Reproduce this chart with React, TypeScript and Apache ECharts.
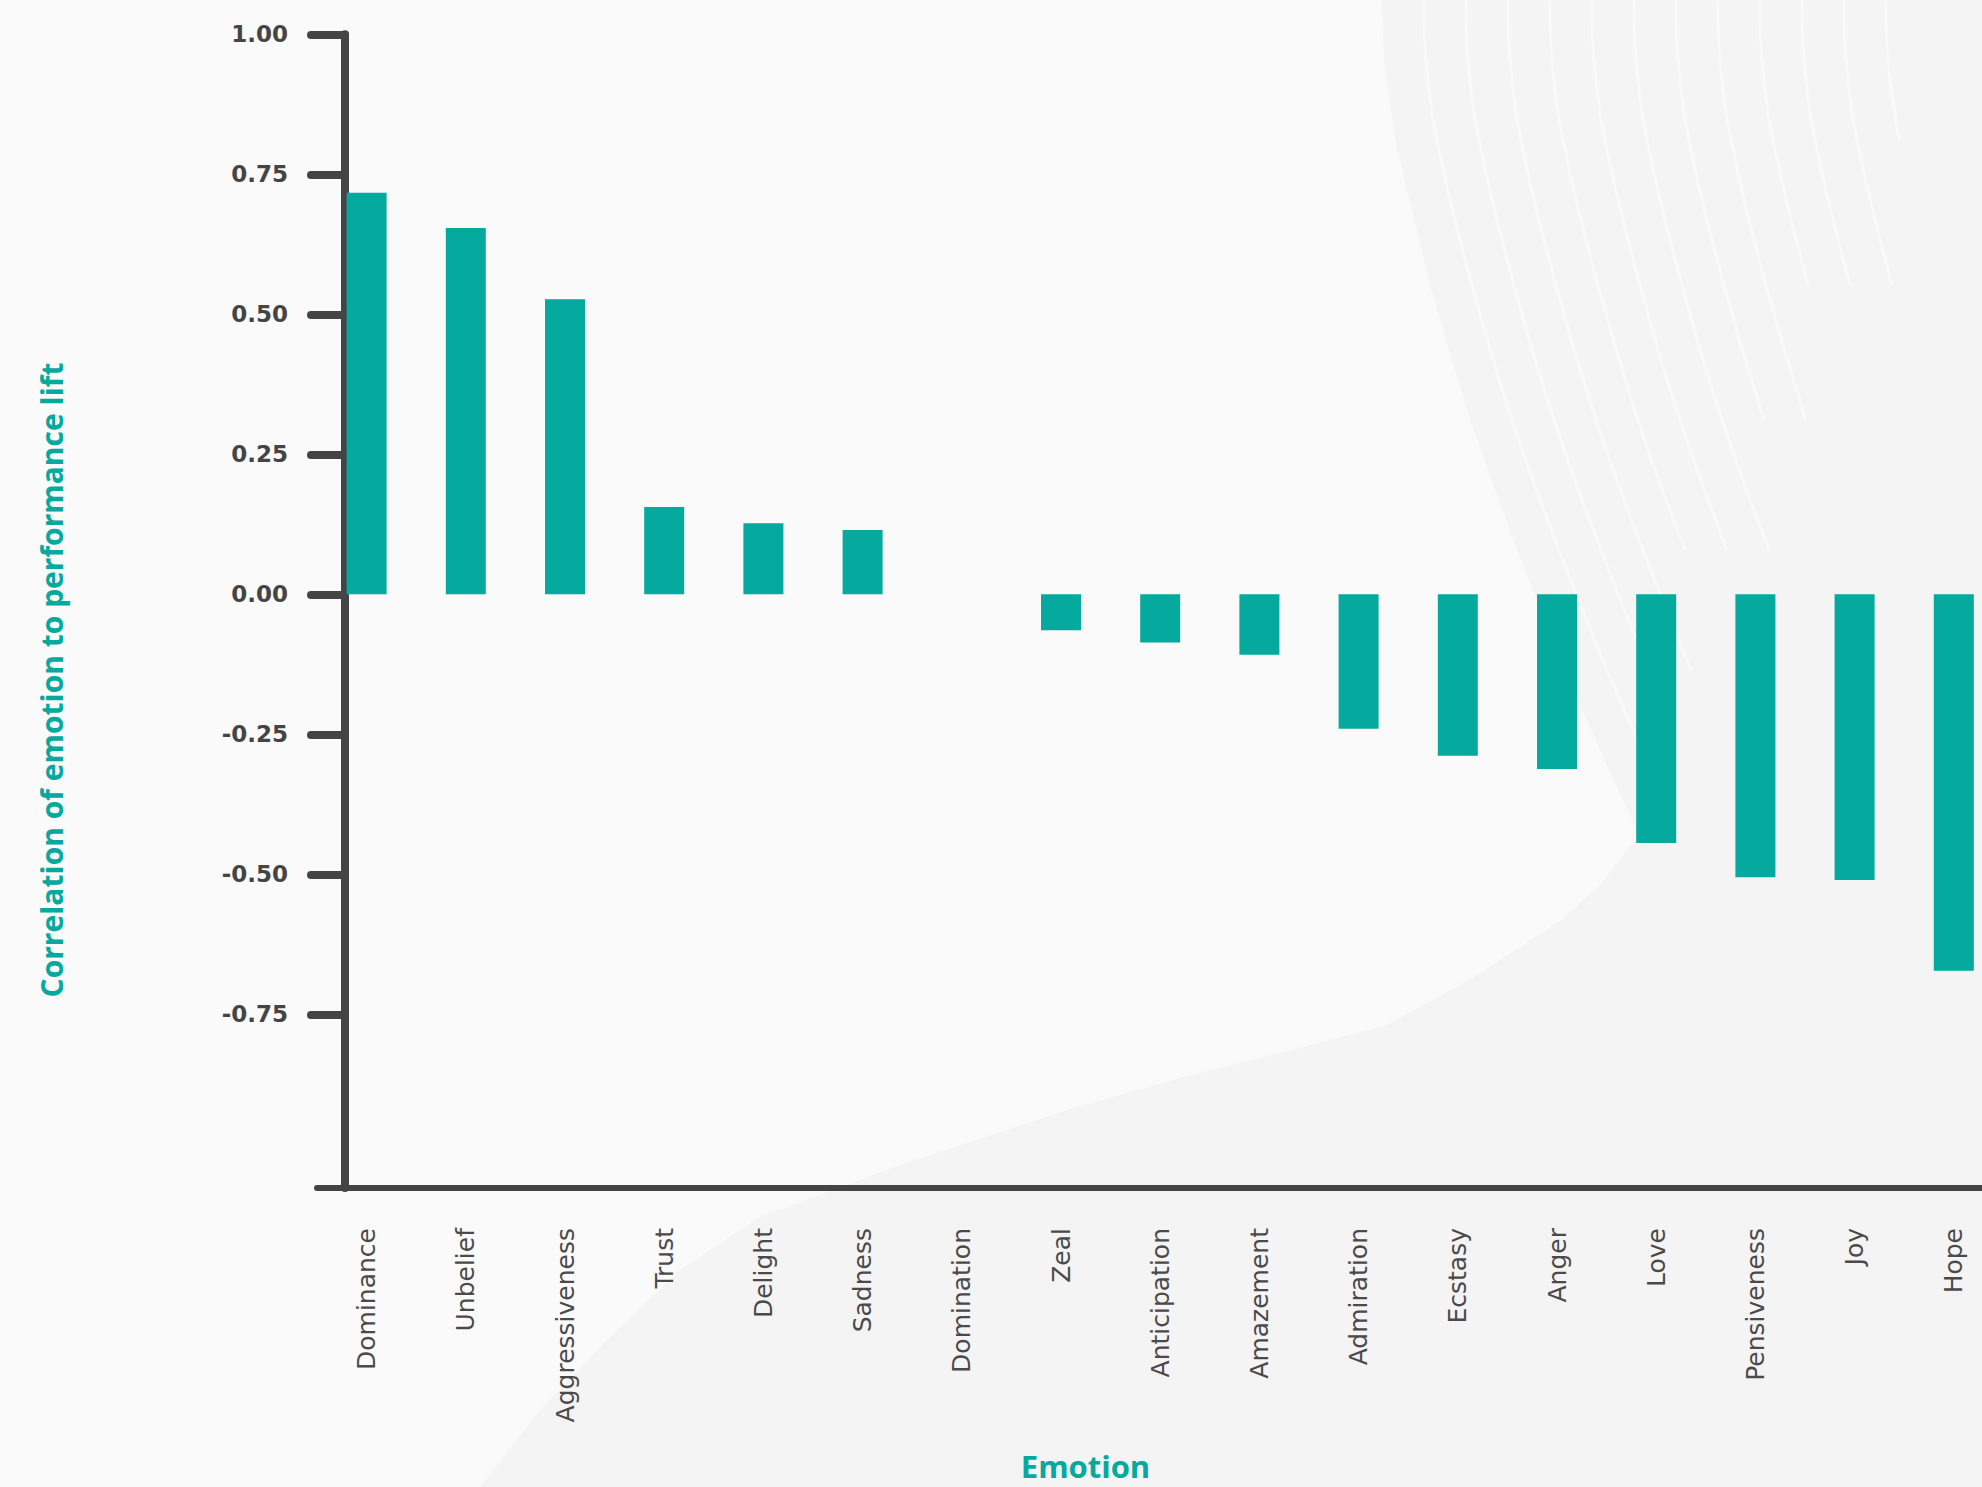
import React, { useEffect, useRef } from 'react';
import * as echarts from 'echarts';

const categories = [
  'Dominance', 'Unbelief', 'Aggressiveness', 'Trust', 'Delight', 'Sadness', 'Domination',
  'Zeal', 'Anticipation', 'Amazement', 'Admiration', 'Ecstasy', 'Anger', 'Love',
  'Pensiveness', 'Joy', 'Hope',
];
const values = [
  0.717, 0.654, 0.527, 0.156, 0.127, 0.115, 0,
  -0.064, -0.086, -0.108, -0.24, -0.288, -0.312, -0.444,
  -0.505, -0.51, -0.672,
];
const yTickValues = [-0.75, -0.5, -0.25, 0, 0.25, 0.5, 0.75, 1];
const yTitle = 'Correlation of emotion to performance lift';
const xTitle = 'Emotion';

const topCurve: number[][] = [
  [1382, 0], [1384, 60], [1395, 140], [1430, 285], [1470, 420], [1517, 550], [1565, 670],
  [1604, 759], [1639, 835],
];
const bgShape: number[][] = [
  ...topCurve,
  [1600, 885], [1561, 920], [1474, 977], [1387, 1025],
  [1300, 1048], [1180, 1078], [1074, 1108], [900, 1165], [758, 1218], [680, 1270],
  [607, 1340], [540, 1410], [480, 1487], [1982, 1487], [1982, 0],
];

export default function App() {
  const ref = useRef<HTMLDivElement>(null);
  useEffect(() => {
    document.body.style.margin = '0';
    const chart = echarts.init(ref.current!, null, { renderer: 'svg' });
    const teal = '#05a99d';
    const axisColor = '#444444';
    const tickStyle = { color: axisColor, width: 8, cap: 'round' };

    const stripes: any[] = [];
    for (let k = 1; k <= 12; k++) {
      const dx = 42 * k;
      const maxY = 820 - 45 * k;
      const pts = topCurve
        .map(([x, y]) => [x + dx, y])
        .filter(([x, y]) => y <= maxY && x < 1990);
      if (pts.length > 1) {
        stripes.push({
          type: 'polyline',
          z: -9,
          silent: true,
          shape: { points: pts, smooth: 0.4 },
          style: { stroke: '#f9f9f9', lineWidth: 3, fill: null },
        });
      }
    }

    chart.setOption({
      animation: false,
      backgroundColor: '#fafafa',
      grid: {
        left: 317, top: 34.3, width: 1686.4, bottom: 299,
        containLabel: false, outerBoundsMode: 'none',
      },
      xAxis: [
        {
          type: 'category',
          data: categories,
          position: 'bottom',
          axisLine: { onZero: false, lineStyle: { color: axisColor, width: 6, cap: 'round' } },
          axisTick: { alignWithLabel: true, interval: 0, length: 14, lineStyle: tickStyle },
          axisLabel: {
            rotate: 90, margin: 40, interval: 0, fontSize: 25, color: '#4a4a4a',
            fontFamily: 'DejaVu Sans',
          },
          splitLine: { show: false },
        },
        {
          type: 'category',
          data: categories,
          position: 'bottom',
          gridIndex: 0,
          axisLine: { show: false, onZero: false },
          axisTick: { inside: true, alignWithLabel: true, interval: 0, length: 14, lineStyle: tickStyle },
          axisLabel: { show: false },
          splitLine: { show: false },
        },
      ],
      yAxis: {
        type: 'value',
        min: -1.06,
        max: 1,
        offset: -28,
        axisLine: { show: true, lineStyle: { color: axisColor, width: 8 } },
        axisTick: { show: true, length: 34, customValues: yTickValues, lineStyle: tickStyle },
        axisLabel: {
          customValues: yTickValues,
          margin: 57,
          formatter: (v: number) => v.toFixed(2),
          fontSize: 23,
          fontWeight: 'bold',
          color: '#444444',
          fontFamily: 'DejaVu Sans',
        },
        splitLine: { show: false },
      },
      series: [
        {
          type: 'bar',
          data: values,
          barWidth: 40,
          xAxisIndex: 0,
          itemStyle: { color: teal },
        },
      ],
      graphic: [
        {
          type: 'polygon',
          z: -10,
          silent: true,
          shape: { points: bgShape },
          style: { fill: '#f4f4f4' },
        },
        ...stripes,
        {
          type: 'text',
          x: 51,
          y: 680,
          rotation: Math.PI / 2,
          style: {
            text: yTitle,
            fill: teal,
            fontSize: 30,
            fontWeight: 'bold',
            fontFamily: 'Open Sans',
            align: 'center',
            verticalAlign: 'middle',
          },
        },
        {
          type: 'text',
          x: 1085.5,
          y: 1466,
          style: {
            text: xTitle,
            fill: teal,
            fontSize: 31,
            fontWeight: 'bold',
            fontFamily: 'Open Sans',
            align: 'center',
            verticalAlign: 'middle',
          },
        },
      ],
    });
    return () => chart.dispose();
  }, []);
  return <div ref={ref} style={{ position: 'fixed', left: 0, top: 0, width: 1982, height: 1487 }} />;
}
